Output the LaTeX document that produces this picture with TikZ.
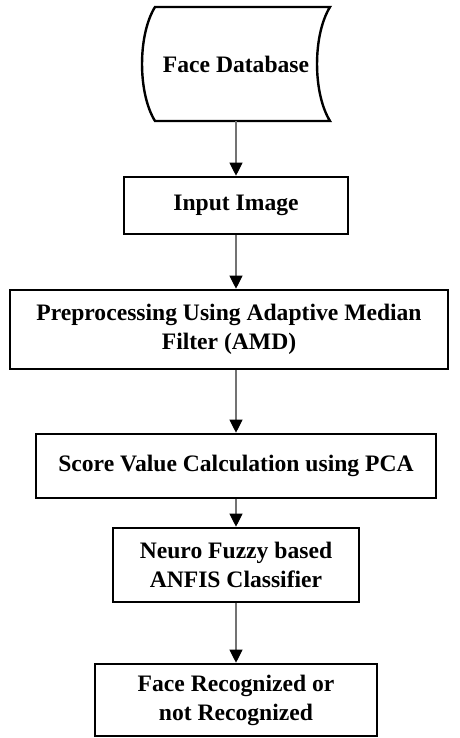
\documentclass[tikz,border=0pt]{standalone}
\usepackage{fontspec}
\setmainfont{Liberation Serif}
\usetikzlibrary{arrows.meta}
\begin{document}
\begin{tikzpicture}[x=1pt,y=-1pt,
  box/.style={draw=black, line width=2.6pt, align=center, inner sep=0pt,
    font=\fontsize{23.6}{29}\selectfont\bfseries},
  txt/.style={align=center, inner sep=0pt, font=\fontsize{23.6}{29}\selectfont\bfseries},
  flow/.style={draw=black!55, line width=1.1pt, -{Triangle[length=13pt,width=13pt,color=black,fill=black]}}
]
\useasboundingbox (0,0) rectangle (459,738);
% Face Database (stored data shape)
\draw[line width=2.4pt, line join=miter]
  (155,7) -- (330,7) .. controls (312.7,35) and (312.7,93) .. (330,121)
  -- (155,121) .. controls (137.7,93) and (137.7,35) .. (155,7) -- cycle;
\node[txt, minimum height=114pt] (fdb) at (236,64) {Face Database};
\node[box, minimum width=224pt, minimum height=57pt] (inp) at (236,205.5) {Input Image};
\node[box, minimum width=438pt, minimum height=79pt] (pre) at (229,329.5) {Preprocessing Using Adaptive Median\\Filter (AMD)};
\node[box, minimum width=400pt, minimum height=64pt] (score) at (236,466) {Score Value Calculation using PCA};
\node[box, minimum width=246pt, minimum height=74pt] (anfis) at (236,565) {Neuro Fuzzy based\\ANFIS Classifier};
\node[box, minimum width=282pt, minimum height=72pt] (res) at (236,700) {Face Recognized or\\not Recognized};
% connectors
\draw[flow] (fdb.south) -- (inp.north);
\draw[flow] (inp.south) -- (inp.south |- pre.north);
\draw[flow] (pre.south -| inp.south) -- (inp.south |- score.north);
\draw[flow] (score.south) -- (anfis.north);
\draw[flow] (anfis.south) -- (res.north);
\end{tikzpicture}
\end{document}
